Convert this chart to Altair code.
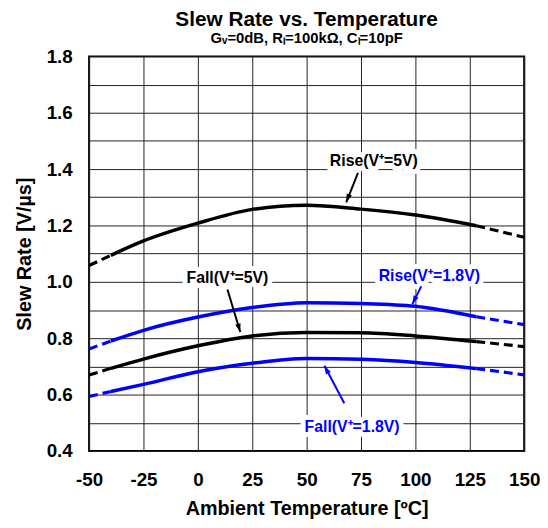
import math
import altair as alt
import pandas as pd

# ---- data ----
temps = [-50, -40, -25, 0, 25, 50, 75, 100, 128, 150]
rise_5v = [1.058, 1.094, 1.145, 1.208, 1.257, 1.272, 1.258, 1.237, 1.199, 1.158]
rise_18v = [0.762, 0.790, 0.828, 0.875, 0.909, 0.926, 0.923, 0.913, 0.876, 0.848]
fall_5v = [0.669, 0.693, 0.726, 0.773, 0.808, 0.820, 0.819, 0.808, 0.788, 0.770]
fall_18v = [0.593, 0.611, 0.636, 0.681, 0.711, 0.728, 0.725, 0.714, 0.692, 0.670]
series_names = ["Rise 5V", "Rise 1.8V", "Fall 5V", "Fall 1.8V"]
series_colors = ["#000000", "#0000ff", "#000000", "#0000ff"]
solid_from, solid_to = -40, 128

x_ticks = [-50, -25, 0, 25, 50, 75, 100, 125, 150]
y_ticks = [round(0.4 + 0.1 * i, 1) for i in range(15)]

# annotations: label text, label position, arrow start, arrow end
ann_text = ["Rise(V\u207a=5V)", "Fall(V\u207a=5V)", "Rise(V\u207a=1.8V)", "Fall(V\u207a=1.8V)"]
ann_color = ["#000000", "#000000", "#0000ff", "#0000ff"]
ann_tx = [80.9, 13.6, 106.4, 70.9]
ann_ty = [1.429, 1.012, 1.019, 0.485]
ann_x1 = [73.6, 13.6, 102.7, 67.3]
ann_y1 = [1.387, 0.973, 0.984, 0.569]
ann_x2 = [68.2, 19.5, 98.6, 58.2]
ann_y2 = [1.282, 0.822, 0.921, 0.702]

W, H = 440, 399
X_DOM, Y_DOM = [-50, 150], [0.4, 1.8]

rows = []
for name, vals in zip(series_names, [rise_5v, rise_18v, fall_5v, fall_18v]):
    for t, v in zip(temps, vals):
        if t <= solid_from:
            rows.append({"series": name, "seg": "L", "key": name + "L", "T": t, "v": v})
        if solid_from <= t <= solid_to:
            rows.append({"series": name, "seg": "S", "key": name + "S", "T": t, "v": v})
        if t >= solid_to:
            rows.append({"series": name, "seg": "R", "key": name + "R", "T": t, "v": v})
df = pd.DataFrame(rows)

px_per_x = W / (X_DOM[1] - X_DOM[0])
px_per_y = H / (Y_DOM[1] - Y_DOM[0])
angles = []
for a, b, c, d in zip(ann_x1, ann_y1, ann_x2, ann_y2):
    dx = (c - a) * px_per_x
    dy = -(d - b) * px_per_y
    angles.append(math.degrees(math.atan2(dx, -dy)) % 360)
ann = pd.DataFrame({"label": ann_text, "col": ann_color, "tx": ann_tx, "ty": ann_ty,
                    "x1": ann_x1, "y1": ann_y1, "x2": ann_x2, "y2": ann_y2, "angle": angles})

FONT = "Liberation Sans"
xaxis = alt.Axis(values=x_ticks, title="Ambient Temperature [ºC]", labelPadding=20,
                 titlePadding=9, labelFlush=False, labelExpr="'' + datum.value")
yaxis = alt.Axis(values=y_ticks, title="Slew Rate [V/µs]", labelPadding=17, titlePadding=12,
                 labelFlush=False,
                 labelExpr="round(datum.value*10) % 2 == 0 ? format(datum.value, '.1f') : ''")
xs = alt.Scale(domain=X_DOM, nice=False)
ys = alt.Scale(domain=Y_DOM, nice=False)
color = alt.Color("series:N", scale=alt.Scale(domain=series_names, range=series_colors), legend=None)

base = alt.Chart(df)
solid = base.transform_filter(alt.datum.seg == "S").mark_line(
    strokeWidth=3.5, interpolate="monotone").encode(
    x=alt.X("T:Q", scale=xs, axis=xaxis), y=alt.Y("v:Q", scale=ys, axis=yaxis),
    color=color, detail="key:N")
dashed = base.transform_filter(alt.datum.seg != "S").mark_line(
    strokeWidth=3.2, strokeDash=[9, 5], interpolate="monotone").encode(
    x=alt.X("T:Q", scale=xs, axis=xaxis), y=alt.Y("v:Q", scale=ys, axis=yaxis),
    color=color, detail="key:N")

abase = alt.Chart(ann)
halo = abase.mark_text(font=FONT, fontSize=16, fontWeight="bold", fill="white",
                       stroke="white", strokeWidth=10, strokeJoin="round").encode(
    x=alt.X("tx:Q", scale=xs, axis=xaxis), y=alt.Y("ty:Q", scale=ys, axis=yaxis), text="label:N")
labels = abase.mark_text(font=FONT, fontSize=16, fontWeight="bold").encode(
    x=alt.X("tx:Q", scale=xs, axis=xaxis), y=alt.Y("ty:Q", scale=ys, axis=yaxis), text="label:N",
    color=alt.Color("col:N", scale=None))
arrows = abase.mark_rule(strokeWidth=2).encode(
    x=alt.X("x1:Q", scale=xs, axis=xaxis), y=alt.Y("y1:Q", scale=ys, axis=yaxis),
    x2="x2:Q", y2="y2:Q", color=alt.Color("col:N", scale=None))
heads = abase.mark_point(shape="M0,0 L-0.8,2.4 L0.8,2.4 Z", filled=True, opacity=1,
                         size=50, strokeWidth=0).encode(
    x=alt.X("x2:Q", scale=xs, axis=xaxis), y=alt.Y("y2:Q", scale=ys, axis=yaxis),
    angle=alt.Angle("angle:Q", scale=None), color=alt.Color("col:N", scale=None))

chart = alt.layer(solid, dashed, halo, labels, arrows, heads).properties(
    width=W, height=H, autosize="none",
    padding={"left": 82, "top": 46, "right": 16, "bottom": 72},
    title=alt.TitleParams("Slew Rate vs. Temperature",
                          subtitle="Gᵥ=0dB, Rₗ=100kΩ, Cₗ=10pF",
                          font=FONT, fontSize=21, fontWeight="bold", color="black",
                          subtitleFont=FONT, subtitleFontSize=15, subtitleFontWeight="bold",
                          subtitleColor="black", subtitlePadding=1, anchor="middle", offset=2),
).configure_view(stroke="black", strokeWidth=2).configure_axis(
    grid=True, gridColor="#222222", gridWidth=1, domain=False, ticks=False,
    labelFont=FONT, labelFontSize=19, labelFontWeight="bold", labelColor="black",
    titleFont=FONT, titleFontSize=20, titleFontWeight="bold", titleColor="black")

chart.save("out.html", embed_options={"renderer": "svg", "actions": False})
